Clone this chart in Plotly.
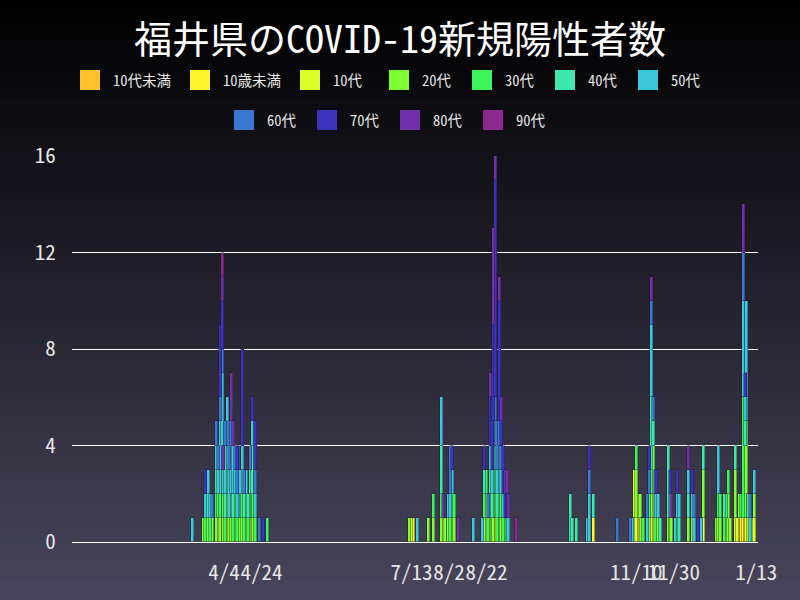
import plotly.graph_objects as go

# ---------------- data ----------------
dates = [
    "2020-03-18", "2020-03-24", "2020-03-25", "2020-03-27", "2020-03-28", "2020-03-29", "2020-03-31", "2020-04-01", "2020-04-02", "2020-04-03",
    "2020-04-04", "2020-04-05", "2020-04-06", "2020-04-07", "2020-04-08", "2020-04-09", "2020-04-10", "2020-04-11", "2020-04-12", "2020-04-13",
    "2020-04-14", "2020-04-15", "2020-04-16", "2020-04-17", "2020-04-18", "2020-04-19", "2020-04-20", "2020-04-21", "2020-04-23", "2020-04-25",
    "2020-04-27", "2020-07-12", "2020-07-13", "2020-07-14", "2020-07-16", "2020-07-22", "2020-07-25", "2020-07-29", "2020-07-30", "2020-07-31",
    "2020-08-01", "2020-08-02", "2020-08-03", "2020-08-04", "2020-08-05", "2020-08-07", "2020-08-15", "2020-08-20", "2020-08-21", "2020-08-22",
    "2020-08-23", "2020-08-24", "2020-08-25", "2020-08-26", "2020-08-27", "2020-08-28", "2020-08-29", "2020-08-30", "2020-08-31", "2020-09-01",
    "2020-09-02", "2020-09-03", "2020-09-07", "2020-10-06", "2020-10-07", "2020-10-09", "2020-10-15", "2020-10-16", "2020-10-18", "2020-10-31",
    "2020-11-07", "2020-11-08", "2020-11-09", "2020-11-10", "2020-11-11", "2020-11-12", "2020-11-13", "2020-11-14", "2020-11-16", "2020-11-17",
    "2020-11-18", "2020-11-19", "2020-11-20", "2020-11-21", "2020-11-22", "2020-11-23", "2020-11-27", "2020-11-28", "2020-11-29", "2020-12-01",
    "2020-12-02", "2020-12-03", "2020-12-08", "2020-12-10", "2020-12-11", "2020-12-13", "2020-12-15", "2020-12-16", "2020-12-23", "2020-12-24",
    "2020-12-25", "2020-12-27", "2020-12-28", "2020-12-29", "2020-12-30", "2021-01-02", "2021-01-03", "2021-01-04", "2021-01-05", "2021-01-06",
    "2021-01-07", "2021-01-08", "2021-01-09", "2021-01-10", "2021-01-11", "2021-01-12",
]

under10_dai = [
    0, 0, 0, 0, 0, 0, 0, 0, 0, 0,
    0, 0, 0, 0, 0, 0, 0, 0, 0, 0,
    0, 0, 0, 0, 0, 0, 0, 0, 0, 0,
    0, 0, 0, 0, 0, 0, 0, 0, 0, 0,
    0, 0, 0, 0, 0, 0, 0, 0, 0, 0,
    0, 0, 0, 0, 0, 0, 0, 0, 0, 0,
    0, 0, 0, 0, 0, 0, 0, 0, 0, 0,
    0, 0, 0, 0, 0, 0, 0, 0, 0, 0,
    0, 0, 0, 0, 0, 0, 0, 0, 0, 0,
    0, 0, 0, 0, 0, 0, 0, 0, 0, 0,
    0, 0, 0, 0, 0, 0, 0, 1, 0, 0,
    0, 0, 0, 0, 0, 0,
]
under10_sai = [
    0, 0, 0, 0, 0, 0, 0, 0, 0, 1,
    0, 0, 0, 0, 0, 0, 0, 0, 0, 0,
    0, 0, 0, 0, 0, 0, 0, 0, 0, 0,
    0, 0, 0, 1, 0, 0, 0, 0, 0, 0,
    1, 0, 0, 0, 0, 0, 0, 0, 0, 0,
    0, 0, 0, 0, 1, 0, 0, 0, 0, 0,
    0, 0, 0, 0, 0, 0, 0, 0, 1, 0,
    0, 0, 1, 0, 1, 0, 0, 0, 0, 0,
    0, 1, 0, 0, 0, 0, 0, 0, 0, 0,
    0, 0, 0, 0, 0, 0, 0, 1, 0, 0,
    0, 0, 0, 0, 0, 0, 0, 0, 1, 1,
    1, 1, 0, 0, 0, 0,
]
teens = [
    0, 0, 0, 0, 0, 0, 0, 1, 0, 0,
    0, 0, 1, 0, 0, 0, 0, 0, 1, 0,
    0, 0, 0, 0, 1, 0, 0, 0, 0, 0,
    0, 0, 1, 0, 0, 0, 0, 0, 1, 0,
    0, 0, 0, 0, 0, 0, 0, 0, 0, 1,
    0, 0, 0, 0, 0, 0, 0, 0, 0, 0,
    0, 0, 0, 0, 0, 0, 0, 0, 0, 0,
    0, 0, 2, 1, 1, 1, 0, 0, 0, 0,
    1, 1, 0, 0, 0, 0, 0, 0, 0, 0,
    0, 0, 0, 0, 0, 0, 0, 0, 0, 0,
    0, 0, 0, 0, 0, 1, 1, 0, 0, 0,
    0, 1, 0, 0, 1, 1,
]
twenties = [
    0, 1, 0, 1, 0, 1, 1, 0, 1, 1,
    1, 0, 1, 1, 1, 0, 1, 0, 0, 1,
    1, 0, 1, 0, 0, 1, 1, 0, 0, 0,
    0, 1, 0, 0, 0, 1, 1, 1, 0, 1,
    0, 1, 0, 1, 1, 0, 0, 0, 1, 1,
    0, 1, 1, 1, 1, 0, 1, 1, 0, 1,
    0, 0, 0, 0, 0, 0, 0, 0, 0, 0,
    0, 0, 0, 2, 0, 1, 1, 0, 0, 1,
    1, 2, 0, 1, 1, 0, 1, 1, 1, 0,
    0, 0, 1, 1, 0, 0, 0, 2, 1, 1,
    1, 0, 1, 2, 1, 2, 0, 1, 0, 0,
    3, 3, 1, 0, 0, 1,
]
thirties = [
    0, 0, 1, 0, 1, 0, 1, 1, 1, 1,
    1, 1, 1, 0, 1, 1, 1, 1, 0, 1,
    1, 1, 1, 1, 1, 1, 1, 1, 0, 0,
    1, 0, 0, 0, 0, 0, 1, 1, 0, 0,
    0, 0, 1, 1, 1, 0, 0, 0, 1, 1,
    1, 1, 0, 1, 1, 1, 1, 1, 1, 0,
    0, 0, 0, 0, 0, 0, 0, 0, 0, 0,
    0, 0, 0, 1, 0, 0, 0, 1, 0, 1,
    1, 0, 1, 0, 0, 0, 0, 0, 0, 0,
    1, 0, 0, 0, 0, 0, 0, 0, 0, 1,
    1, 1, 1, 1, 0, 0, 0, 0, 1, 5,
    0, 0, 0, 0, 0, 0,
]
forties = [
    0, 0, 0, 1, 0, 0, 1, 0, 1, 1,
    0, 1, 1, 0, 0, 1, 0, 0, 1, 0,
    1, 1, 0, 1, 1, 2, 0, 0, 0, 0,
    0, 0, 0, 0, 0, 0, 0, 2, 0, 0,
    0, 0, 0, 0, 0, 0, 0, 0, 1, 0,
    0, 1, 1, 1, 1, 1, 1, 0, 0, 0,
    1, 0, 0, 2, 1, 1, 0, 0, 1, 0,
    0, 0, 0, 0, 0, 0, 0, 0, 0, 0,
    3, 1, 0, 0, 0, 1, 3, 0, 0, 0,
    0, 1, 1, 0, 0, 0, 0, 1, 0, 0,
    0, 1, 0, 0, 0, 1, 0, 0, 0, 0,
    1, 1, 1, 0, 0, 0,
]
fifties = [
    1, 0, 1, 1, 1, 0, 1, 1, 2, 3,
    1, 2, 2, 2, 2, 2, 1, 1, 1, 1,
    1, 0, 1, 0, 0, 1, 0, 1, 0, 0,
    0, 0, 0, 0, 1, 0, 0, 2, 0, 0,
    0, 1, 1, 1, 0, 0, 1, 1, 0, 0,
    0, 1, 1, 1, 1, 1, 1, 1, 1, 0,
    0, 1, 0, 0, 0, 0, 1, 2, 0, 0,
    0, 1, 0, 0, 0, 0, 0, 0, 1, 0,
    3, 0, 1, 1, 1, 0, 0, 1, 0, 1,
    1, 1, 1, 1, 1, 0, 1, 0, 0, 2,
    0, 0, 0, 0, 0, 0, 0, 0, 0, 4,
    1, 4, 0, 1, 0, 1,
]
sixties = [
    0, 0, 0, 0, 0, 1, 1, 1, 1, 1,
    0, 1, 0, 2, 1, 0, 1, 1, 1, 0,
    0, 1, 0, 0, 1, 0, 0, 1, 1, 0,
    0, 0, 0, 0, 0, 0, 0, 0, 0, 0,
    0, 0, 2, 0, 0, 0, 0, 0, 0, 0,
    1, 0, 0, 1, 1, 2, 1, 1, 0, 0,
    0, 0, 0, 0, 0, 0, 0, 1, 0, 1,
    1, 0, 0, 0, 0, 0, 0, 0, 1, 1,
    1, 1, 1, 0, 0, 0, 0, 0, 0, 0,
    0, 0, 0, 0, 1, 0, 0, 0, 0, 0,
    0, 0, 0, 0, 0, 0, 0, 0, 0, 2,
    0, 0, 0, 1, 0, 0,
]
seventies = [
    0, 0, 1, 0, 0, 0, 0, 0, 3, 2,
    0, 0, 0, 0, 0, 0, 0, 1, 0, 0,
    4, 0, 0, 0, 0, 1, 0, 2, 0, 1,
    0, 0, 0, 0, 0, 0, 0, 0, 0, 0,
    0, 0, 0, 1, 0, 0, 0, 0, 1, 0,
    0, 2, 3, 4, 9, 0, 5, 1, 2, 1,
    1, 0, 0, 0, 0, 0, 0, 1, 0, 0,
    0, 0, 0, 0, 0, 0, 0, 0, 0, 1,
    0, 0, 0, 1, 0, 0, 0, 1, 0, 0,
    1, 0, 0, 1, 0, 1, 0, 0, 0, 0,
    0, 0, 0, 0, 0, 0, 0, 0, 0, 0,
    1, 0, 0, 0, 0, 0,
]
eighties = [
    0, 0, 0, 0, 0, 0, 0, 0, 0, 1,
    1, 0, 0, 0, 2, 1, 0, 0, 0, 0,
    0, 0, 0, 0, 0, 0, 0, 0, 0, 0,
    0, 0, 0, 0, 0, 0, 0, 0, 1, 0,
    0, 0, 0, 0, 0, 1, 0, 0, 0, 0,
    0, 1, 0, 4, 1, 0, 1, 1, 0, 1,
    1, 1, 0, 0, 0, 0, 0, 0, 0, 0,
    0, 0, 0, 0, 0, 0, 0, 0, 0, 0,
    1, 0, 0, 0, 0, 0, 0, 0, 1, 0,
    0, 0, 1, 0, 0, 0, 0, 0, 0, 0,
    0, 0, 0, 0, 0, 0, 0, 0, 0, 2,
    0, 0, 0, 0, 0, 0,
]
nineties = [
    0, 0, 0, 0, 0, 0, 0, 0, 0, 1,
    0, 0, 0, 0, 0, 0, 0, 0, 0, 0,
    0, 0, 0, 0, 0, 0, 0, 0, 0, 0,
    0, 0, 0, 0, 0, 0, 0, 0, 0, 0,
    0, 0, 0, 0, 0, 0, 0, 0, 0, 0,
    0, 0, 0, 0, 0, 0, 0, 0, 0, 0,
    0, 0, 1, 0, 0, 0, 0, 0, 0, 0,
    0, 0, 0, 0, 0, 0, 0, 0, 0, 0,
    0, 0, 0, 0, 0, 0, 0, 0, 0, 0,
    0, 0, 0, 0, 0, 0, 0, 0, 0, 0,
    0, 0, 0, 0, 0, 0, 0, 0, 0, 0,
    0, 0, 0, 0, 0, 0,
]

group_names = ["10代未満", "10歳未満", "10代", "20代", "30代", "40代", "50代", "60代", "70代", "80代", "90代"]
group_values = [under10_dai, under10_sai, teens, twenties, thirties, forties, fifties,
                sixties, seventies, eighties, nineties]
group_colors = ["#FFC02A", "#FFF52A", "#DCFF2A", "#7DFF32", "#3CF55A", "#3CE8AE",
                "#3CC8DC", "#3A78D2", "#3C32BE", "#7030AA", "#8C2890"]

tick_dates = ["2020-04-04", "2020-04-24", "2020-07-13", "2020-08-02", "2020-08-22",
              "2020-11-10", "2020-11-30", "2021-01-13"]
tick_labels = ["4/4", "4/24", "7/13", "8/2", "8/22", "11/10", "11/30", "1/13"]

title_text = "福井県のCOVID-19新規陽性者数"

for v in group_values:
    assert len(v) == len(dates), (len(v), len(dates))

# ---------------- geometry helpers (pixels -> paper) ----------------
W, H = 800, 600
PL, PR, PT, PB = 72, 758, 156, 542


def px(x):
    return (x - PL) / (PR - PL)


def py(y):
    return (PB - y) / (PB - PT)


FONT = "Noto Sans Mono CJK JP, Noto Sans CJK JP, DejaVu Sans Mono, monospace"
DAY = 86400000

fig = go.Figure()
for name, vals, col in zip(group_names, group_values, group_colors):
    fig.add_trace(go.Bar(
        x=dates,
        y=[v if v else None for v in vals],
        name=name,
        width=DAY * 1.6,
        marker=dict(color=col, line=dict(color="rgba(25,25,35,0.75)", width=0.5)),
        showlegend=False,
    ))

shapes = []
# background vertical gradient
N = 60
top = (0, 0, 0)
bot = (72, 69, 92)
for i in range(N):
    t = (i + 0.5) / N
    c = tuple(round(top[k] + (bot[k] - top[k]) * t) for k in range(3))
    y0 = i * H / N
    y1 = (i + 1) * H / N + 0.6
    shapes.append(dict(type="rect", xref="paper", yref="paper", layer="below",
                       x0=px(-5), x1=px(W + 5), y0=py(y1), y1=py(y0),
                       line=dict(width=0), fillcolor="rgb(%d,%d,%d)" % c))

# manual legend
legend_rows = [
    [(0, 80), (1, 190), (2, 300), (3, 389), (4, 472), (5, 555), (6, 638)],
    [(7, 234), (8, 317), (9, 400), (10, 483)],
]
legend_y = [80, 120]
annotations = []
for row, yc in zip(legend_rows, legend_y):
    for idx, x0 in row:
        shapes.append(dict(type="rect", xref="paper", yref="paper", layer="above",
                           x0=px(x0), x1=px(x0 + 20), y0=py(yc + 10), y1=py(yc - 10),
                           line=dict(width=0), fillcolor=group_colors[idx]))
        annotations.append(dict(xref="paper", yref="paper", x=px(x0 + 31), y=py(yc),
                                xanchor="left", yanchor="middle", showarrow=False,
                                text=group_names[idx],
                                font=dict(family=FONT, size=14.5, color="#e6e6e6")))

fig.update_layout(
    width=W, height=H,
    margin=dict(l=PL, r=W - PR, t=PT, b=H - PB),
    paper_bgcolor="#1c1b24",
    plot_bgcolor="rgba(0,0,0,0)",
    barmode="stack",
    bargap=0,
    title=dict(text=title_text, x=0.5, xanchor="center", y=1 - 40 / H, yanchor="middle",
               yref="container", font=dict(family=FONT, size=38, color="#ffffff")),
    shapes=shapes,
    annotations=annotations,
    showlegend=False,
    xaxis=dict(
        type="date",
        range=["2020-01-13 22:00", "2021-01-13 22:00"],
        tickvals=tick_dates,
        ticktext=tick_labels,
        tickangle=0,
        showgrid=False,
        zeroline=False,
        showline=False,
        ticks="outside", ticklen=12, tickcolor="rgba(0,0,0,0)",
        tickfont=dict(family=FONT, size=21, color="#e6e6e6"),
    ),
    yaxis=dict(
        range=[0, 16],
        tickvals=[0, 4, 8, 12, 16],
        showgrid=True, gridcolor="#ffffff", gridwidth=1,
        zeroline=True, zerolinecolor="#ffffff", zerolinewidth=1,
        showline=False,
        ticks="outside", ticklen=11, tickcolor="rgba(0,0,0,0)",
        tickfont=dict(family=FONT, size=21, color="#e6e6e6"),
    ),
)

fig.write_html("out.html", config={"displayModeBar": False},
               post_script="document.body.style.margin='0';")
